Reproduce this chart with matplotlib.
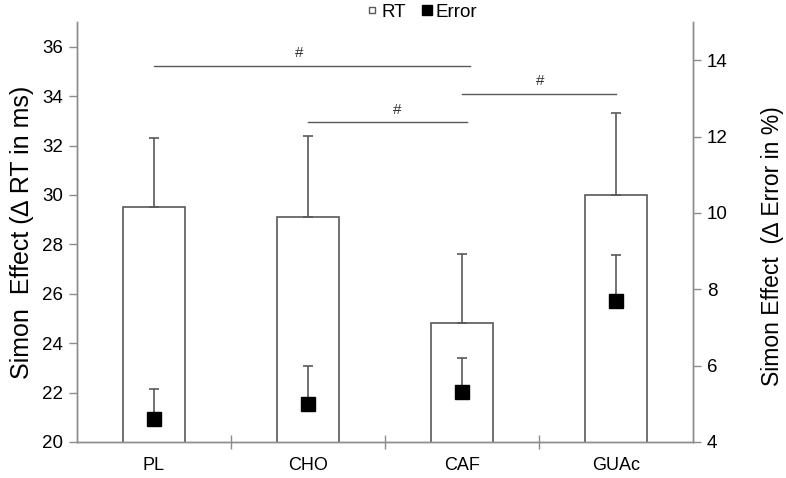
import matplotlib
matplotlib.use("Agg")
import matplotlib.pyplot as plt
from matplotlib.lines import Line2D

plt.rcParams['font.family'] = ['Liberation Sans', 'DejaVu Sans']

categories = ["PL", "CHO", "CAF", "GUAc"]
rt_mean = [29.5, 29.1, 24.8, 30.0]
rt_err = [2.8, 3.3, 2.8, 3.3]
err_mean = [4.6, 5.0, 5.3, 7.7]
err_err = [0.8, 1.0, 0.9, 1.2]
# significance brackets: (x_start, x_end, y in RT units, label x)
sig_x0 = [0.0, 1.0, 2.0]
sig_x1 = [2.05, 2.03, 3.0]
sig_y = [35.22, 32.94, 34.09]
sig_lx = [0.94, 1.58, 2.51]
sig_labels = ["#", "#", "#"]

gray = "#595959"
spine_gray = "#8c8c8c"

fig = plt.figure(figsize=(7.86, 4.78), dpi=100)
ax = fig.add_axes([77/786, 1-442/478, (693-77)/786, (442-22)/478])
ax2 = ax.twinx()

x = list(range(len(categories)))
ax.bar(x, rt_mean, width=0.4, color="white", edgecolor=gray, linewidth=1.2, zorder=2)
ax.errorbar(x, rt_mean, yerr=[[0]*4, rt_err], fmt="none", ecolor=gray,
            elinewidth=1.2, capsize=3.5, capthick=1.2, zorder=3)

ax2.errorbar(x, err_mean, yerr=[[0]*4, err_err], fmt="none", ecolor=gray,
             elinewidth=1.2, capsize=3.5, capthick=1.2, zorder=3)
ax2.plot(x, err_mean, linestyle="none", marker="s", markersize=10.5,
         color="black", zorder=4)

for x0, x1, y, lx, lab in zip(sig_x0, sig_x1, sig_y, sig_lx, sig_labels):
    ax.plot([x0, x1], [y, y], color=gray, linewidth=1.0, clip_on=False, zorder=3)
    ax.annotate(lab, (lx, y), xytext=(0, 9), textcoords="offset points",
                ha="center", va="center", fontsize=11, color="#333333")

ax.set_xlim(-0.5, 3.5)
ax.set_ylim(20, 37)
ax2.set_ylim(4, 15)
ax.set_yticks([20, 22, 24, 26, 28, 30, 32, 34, 36])
ax2.set_yticks([4, 6, 8, 10, 12, 14])

ax.set_xticks(x)
ax.set_xticklabels(categories, fontsize=13)
ax.tick_params(axis="x", which="major", length=0, pad=11)
ax.set_xticks([0.5, 1.5, 2.5], minor=True)
ax.tick_params(axis="x", which="minor", length=10, direction="inout", color=spine_gray, width=1)

ax.tick_params(axis="y", labelsize=13.5, length=6, color=spine_gray, width=1, pad=4)
ax2.tick_params(axis="y", labelsize=13.5, length=6, color=spine_gray, width=1, pad=4)

for a in (ax, ax2):
    a.spines["top"].set_visible(False)
    for s in ("left", "right", "bottom"):
        a.spines[s].set_color(spine_gray)
        a.spines[s].set_linewidth(1.0)

ax.set_ylabel("Simon  Effect (\u2206 RT in ms)", fontsize=18, labelpad=6)
ax2.set_ylabel("Simon Effect  (\u2206 Error in %)", fontsize=16.5, labelpad=24)
ax2.yaxis.label.set_y(0.467)

handles = [Line2D([], [], linestyle="none", marker="s", markersize=5,
                  markerfacecolor="white", markeredgecolor=gray, markeredgewidth=1.0),
           Line2D([], [], linestyle="none", marker="s", markersize=7,
                  markerfacecolor="black", markeredgecolor="black")]
fig.legend(handles, ["RT", "Error"], loc="center", bbox_to_anchor=(422/786, 1-12/478),
           ncol=2, frameon=False, fontsize=13.5, handlelength=0.6,
           handletextpad=0.2, columnspacing=0.8, borderpad=0)

fig.savefig("out.png", dpi=100)
